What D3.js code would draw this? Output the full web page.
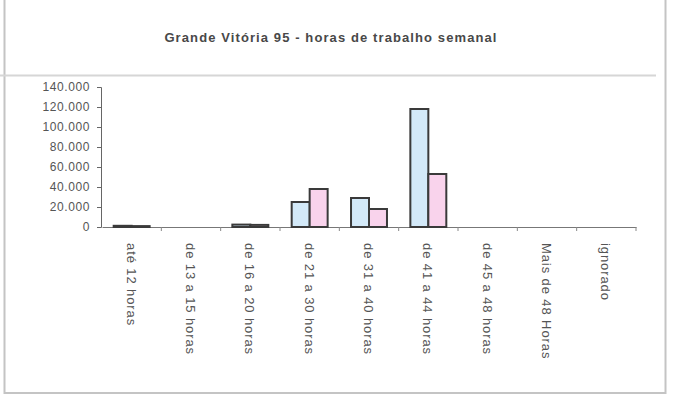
<!DOCTYPE html>
<html>
<head>
<meta charset="utf-8">
<script src="https://cdn.jsdelivr.net/npm/d3@7"></script>
<style>
  body { margin: 0; background: #fff; }
  text { font-family: "Liberation Sans", Arial, sans-serif; }
</style>
</head>
<body>
<div id="main"></div>
<script>
// chart data
const categories = ['até 12  horas', 'de 13 a 15 horas', 'de 16 a 20 horas', 'de 21 a 30 horas',
  'de 31 a 40 horas', 'de 41 a 44 horas', 'de 45 a 48 horas', 'Mais de 48 Horas', 'ignorado'];
const seriesNames = ['serie1', 'serie2'];
const serie1 = [1200, 0, 2400, 25000, 29000, 118000, 0, 0, 0];
const serie2 = [900, 0, 2100, 38000, 18000, 53000, 0, 0, 0];
const yTicks = [0, 20000, 40000, 60000, 80000, 100000, 120000, 140000];
const title = 'Grande Vitória 95 - horas de trabalho semanal';

function main() {
  const width = 675;
  const height = 408;
  const colors = { serie1: '#d3e9f8', serie2: '#f9d3ec' };
  const ink = '#3a3a3a';
  // portuguese number format: 140.000
  const fmt = d3.formatLocale({ decimal: ',', thousands: '.', grouping: [3], currency: ['', ''] }).format(',d');

  const rows = categories.map((c, i) => ({ cat: c, serie1: serie1[i], serie2: serie2[i] }));

  const svg = d3.select('#main')
    .append('svg')
    .attr('width', width)
    .attr('height', height);

  // frame of the chart sheet
  svg.append('rect')
    .attr('x', 4.5).attr('y', -3)
    .attr('width', 661).attr('height', 396)
    .attr('fill', 'none')
    .attr('stroke', '#c4c4c4')
    .attr('stroke-width', 2);
  svg.append('line')
    .attr('x1', 0).attr('x2', 656)
    .attr('y1', 75.5).attr('y2', 75.5)
    .attr('stroke', '#d6d6d6')
    .attr('stroke-width', 2);

  svg.append('text')
    .attr('x', 331).attr('y', 42)
    .attr('text-anchor', 'middle')
    .attr('font-size', 13)
    .attr('letter-spacing', 1.1)
    .attr('font-weight', 'bold')
    .attr('fill', '#484848')
    .text(title);

  const x0 = d3.scaleBand().domain(categories).range([102, 636]).padding(0);
  const x1 = d3.scaleBand().domain(seriesNames).range([0, x0.bandwidth()])
    .paddingInner(0).paddingOuter(0.65);
  const y = d3.scaleLinear().domain([0, 140000]).range([227, 87]);

  // y axis
  const yAxis = svg.append('g')
    .attr('transform', 'translate(101,0)')
    .call(d3.axisLeft(y).tickValues(yTicks).tickFormat(fmt).tickSize(4).tickPadding(7));
  yAxis.select('.domain').attr('stroke', '#666');
  yAxis.selectAll('.tick line').attr('stroke', '#666');
  yAxis.selectAll('text')
    .attr('font-size', 12)
    .attr('letter-spacing', 0.6)
    .attr('fill', '#555');

  // x axis with ticks between categories
  const xAxis = svg.append('g')
    .attr('transform', 'translate(0,227)')
    .call(d3.axisBottom(x0).tickSize(0).tickFormat(''));
  xAxis.select('.domain').attr('stroke', '#777');
  xAxis.selectAll('.sep')
    .data(categories)
    .enter()
    .append('line')
    .attr('x1', d => x0(d) + x0.bandwidth())
    .attr('x2', d => x0(d) + x0.bandwidth())
    .attr('y1', 0).attr('y2', 4)
    .attr('stroke', '#888');

  // rotated category labels, reading top to bottom
  svg.append('g')
    .selectAll('text')
    .data(categories)
    .enter()
    .append('text')
    .attr('transform', d => `translate(${x0(d) + x0.bandwidth() / 2 - 5},243) rotate(90)`)
    .attr('font-size', 13)
    .attr('letter-spacing', 0.9)
    .attr('fill', '#555')
    .text(d => d);

  // bars
  const groups = svg.append('g')
    .selectAll('g')
    .data(rows)
    .enter()
    .append('g')
    .attr('transform', d => `translate(${x0(d.cat)},0)`);
  groups.selectAll('rect')
    .data(d => seriesNames.map(k => ({ key: k, value: d[k] })).filter(e => e.value > 0))
    .enter()
    .append('rect')
    .attr('x', d => x1(d.key))
    .attr('y', d => y(d.value))
    .attr('width', x1.bandwidth())
    .attr('height', d => y(0) - y(d.value))
    .attr('fill', d => colors[d.key])
    .attr('stroke', ink)
    .attr('stroke-width', 2);
}

document.addEventListener('DOMContentLoaded', main);
</script>
</body>
</html>
